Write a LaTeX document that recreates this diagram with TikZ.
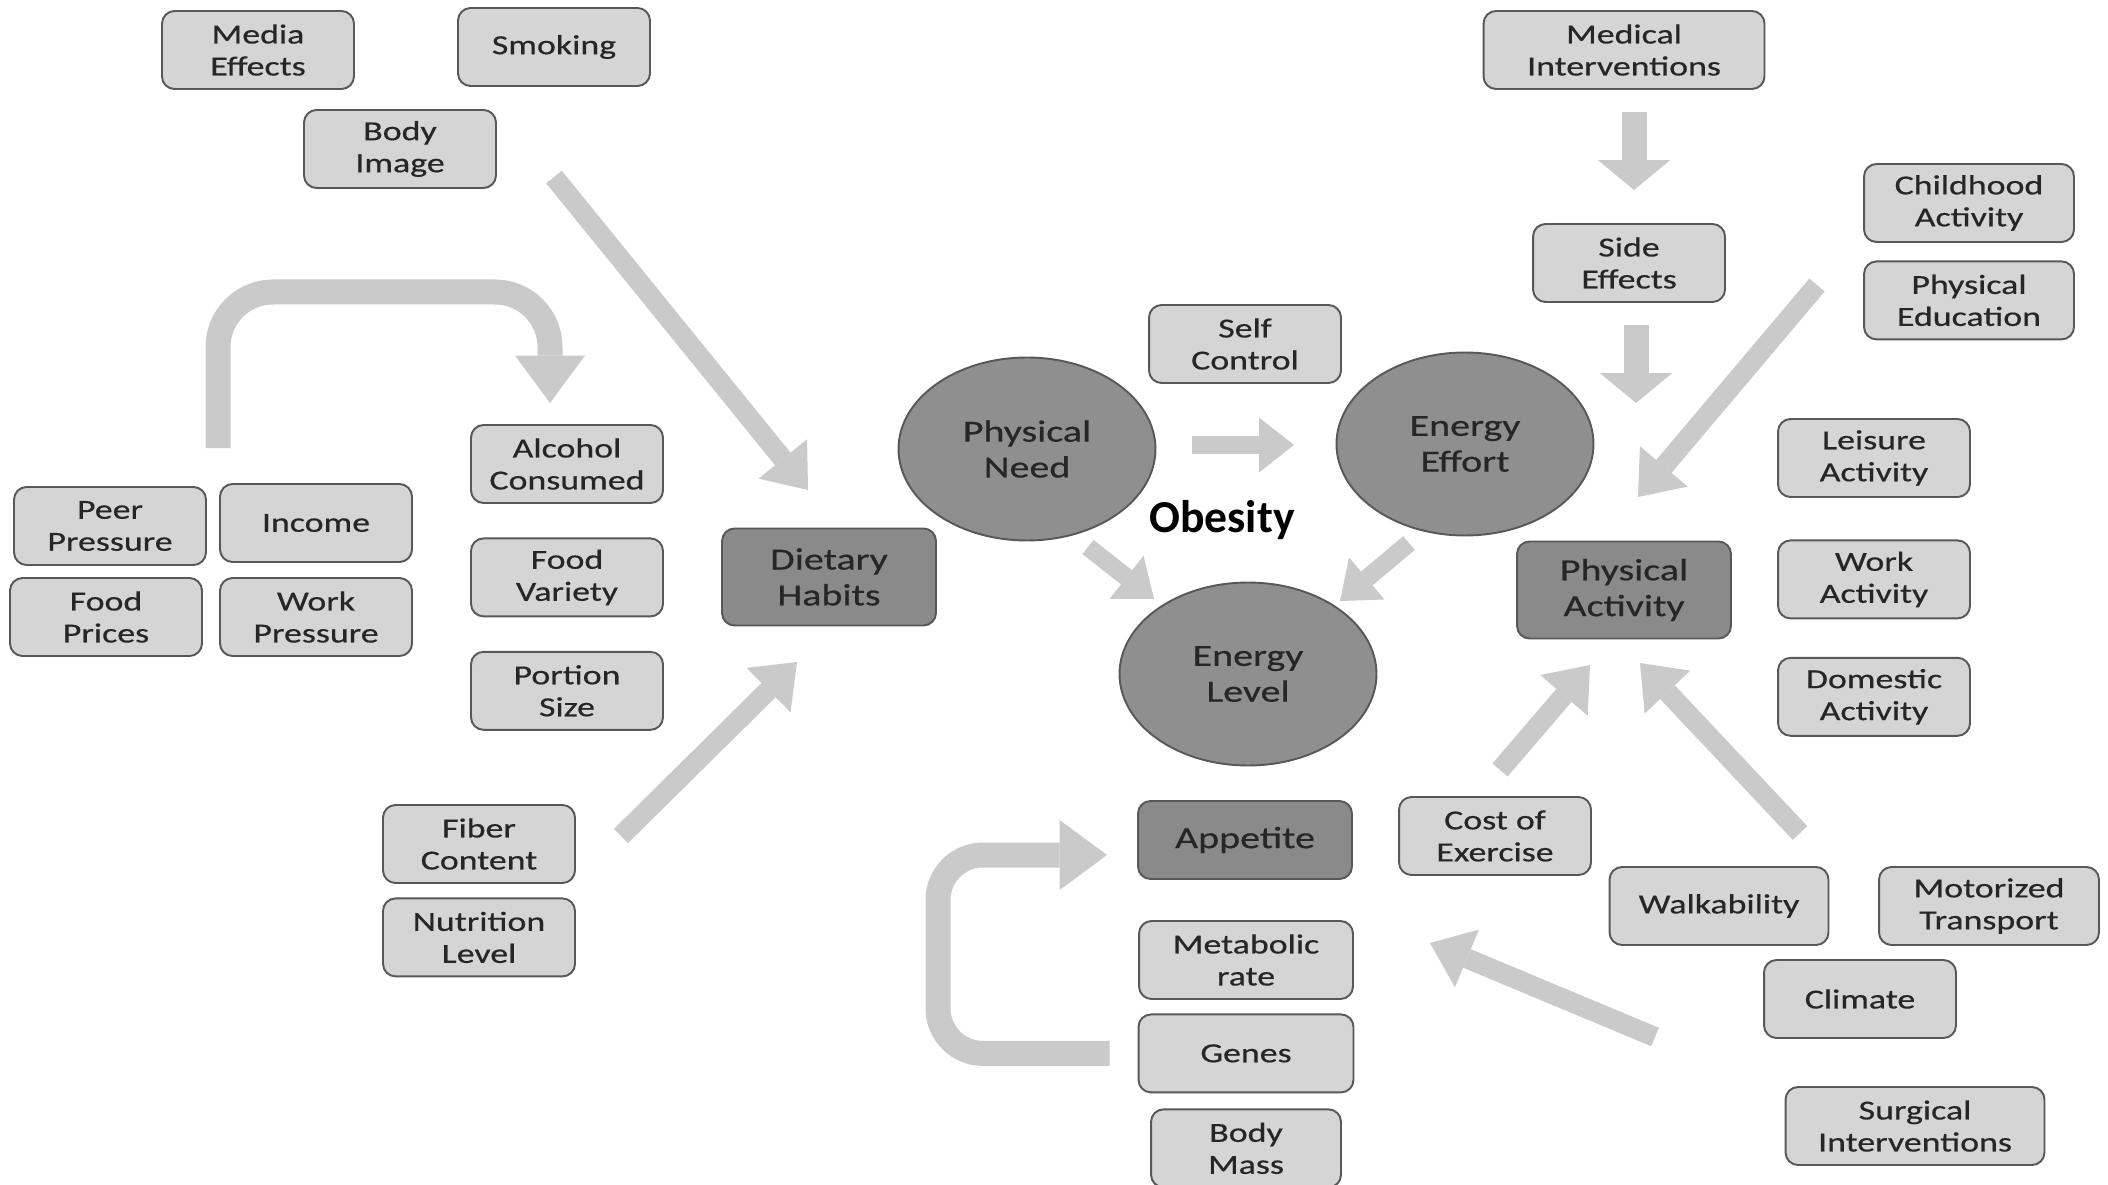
\documentclass[tikz,border=0pt]{standalone}
\usepackage{fontspec}
\setmainfont{Carlito}[FakeStretch=1.3, FakeBold=0.5]
\newfontfamily\titlefont{Carlito}
\usetikzlibrary{
    arrows.meta,
    positioning,
    shapes.geometric
}
\definecolor{boxfill}{HTML}{D5D5D5}
\definecolor{corefill}{HTML}{8A8A8A}
\definecolor{hubfill}{HTML}{8F8F8F}
\definecolor{edgegray}{HTML}{585858}
\definecolor{arrowgray}{HTML}{CACACA}
\definecolor{inkgray}{HTML}{262626}

\begin{document}
\begin{tikzpicture}[
    x=0.02cm, y=-0.02cm,
    every node/.style={font=\fontsize{15.7}{18.2}\selectfont, text=inkgray},
    factor/.style={rectangle, draw=edgegray, line width=1.1pt, rounded corners=0.25cm,
      align=center, fill=boxfill, minimum width=3.84cm, minimum height=1.56cm, inner sep=2pt},
    core/.style={factor, fill=corefill, minimum width=4.28cm, minimum height=1.94cm,
      font=\fontsize{17.5}{20.4}\selectfont},
    hub/.style={ellipse, draw=edgegray, line width=1.1pt, fill=hubfill, align=center,
      minimum width=5.14cm, minimum height=3.66cm, inner sep=0pt,
      font=\fontsize{17.5}{20.4}\selectfont},
    flow/.style={draw=arrowgray, line width=0.4cm,
      -{Triangle[width=1.25cm, length=0.8cm, line width=0pt]}},
    drop/.style={flow, line width=0.5cm,
      -{Triangle[width=1.45cm, length=0.6cm, line width=0pt]}},
    nudge/.style={flow, line width=0.36cm,
      -{Triangle[width=1.1cm, length=0.7cm, line width=0pt]}},
    loop/.style={flow, line width=0.5cm, rounded corners=1.1cm,
      -{Triangle[width=1.4cm, length=0.95cm, line width=0pt]}}
]
\useasboundingbox (0,0) rectangle (2108,1185);
\fill[white] (0,0) rectangle (2108,1185);

% diet side
\node[factor] (media) at (258,50) {Media\\Effects};
\node[factor] (smoking) at (554,47) {Smoking};
\node[factor] (bodyimg) at (400,149) {Body\\Image};
\node[factor] (alcohol) at (567,464) {Alcohol\\Consumed};
\node[factor, below=0.67cm of alcohol] (variety) {Food\\Variety};
\node[factor, below=0.67cm of variety] (portion) {Portion\\Size};
\node[factor] (peer) at (110,526) {Peer\\Pressure};
\node[factor] (income) at (316,523) {Income};
\node[factor] (prices) at (106,617) {Food\\Prices};
\node[factor] (workpress) at (316,617) {Work\\Pressure};
\node[factor] (fiber) at (479,844) {Fiber\\Content};
\node[factor, below=0.27cm of fiber] (nutrition) {Nutrition\\Level};
\node[core] (dietary) at (829,577) {Dietary\\Habits};

% centre
\node[hub] (need) at (1027,449) {Physical\\Need};
\node[hub] (effort) at (1465,444) {Energy\\Effort};
\node[hub] (level) at (1248,674) {Energy\\Level};
\node[factor] (selfctl) at (1245,344) {Self\\Control};
\node[font=\titlefont\bfseries\fontsize{26}{30}\selectfont, text=black] (obesity) at (1222,520) {Obesity};
\node[core, minimum height=1.56cm] (appetite) at (1245,840) {Appetite};
\node[factor, minimum width=4.28cm] (metabolic) at (1246,960) {Metabolic\\rate};
\node[factor, minimum width=4.3cm, below=0.27cm of metabolic] (genes) {Genes};
\node[factor, minimum width=3.8cm, below=0.3cm of genes] (bodymass) {Body\\Mass};

% activity side
\node[factor, minimum width=5.62cm] (medical) at (1624,50) {Medical\\Interventions};
\node[factor] (side) at (1629,263) {Side\\Effects};
\node[factor, minimum width=4.2cm] (childhood) at (1969,203) {Childhood\\Activity};
\node[factor, minimum width=4.2cm, below=0.35cm of childhood] (physed) {Physical\\Education};
\node[core] (physact) at (1624,590) {Physical\\Activity};
\node[factor] (leisure) at (1874,458) {Leisure\\Activity};
\node[factor, below=0.83cm of leisure] (workact) {Work\\Activity};
\node[factor, below=0.75cm of workact] (domestic) {Domestic\\Activity};
\node[factor] (cost) at (1495,836) {Cost of\\Exercise};
\node[factor, minimum width=4.38cm] (walk) at (1719,906) {Walkability};
\node[factor, minimum width=4.4cm] (motor) at (1989,906) {Motorized\\Transport};
\node[factor] (climate) at (1860,999) {Climate};
\node[factor, minimum width=5.18cm] (surgical) at (1915,1126) {Surgical\\Interventions};

% free ends of the block arrows
\coordinate (bi-out) at (554,177);   \coordinate (diet-in1) at (808,490);
\coordinate (fib-out) at (621,836);  \coordinate (diet-in2) at (797,662);
\coordinate (peer-up) at (218,448);  \coordinate (alc-in) at (550,403);
\coordinate (need-out) at (1192,445); \coordinate (effort-in) at (1294,445);
\coordinate (need-dn) at (1088,547); \coordinate (level-in1) at (1154,599);
\coordinate (effort-dn) at (1409,543); \coordinate (level-in2) at (1340,601);
\coordinate (med-out) at (1634,112); \coordinate (side-in) at (1634,190);
\coordinate (side-out) at (1636,325); \coordinate (act-in0) at (1636,403);
\coordinate (child-out) at (1817,285); \coordinate (act-in1) at (1638,497);
\coordinate (cost-out) at (1500,770); \coordinate (act-in2) at (1590,665);
\coordinate (walk-out) at (1800,833); \coordinate (act-in3) at (1640,663);
\coordinate (clim-out) at (1655,1037); \coordinate (meta-in) at (1430,943);

\draw[flow] (bi-out) -- (diet-in1);
\draw[flow] (fib-out) -- (diet-in2);
\draw[loop] (peer-up) |- (550,292) -- (alc-in);
\draw[nudge] (need-out) -- (effort-in);
\draw[nudge] (need-dn) -- (level-in1);
\draw[nudge] (effort-dn) -- (level-in2);
\draw[drop] (med-out) -- (side-in);
\draw[drop] (side-out) -- (act-in0);
\draw[flow] (child-out) -- (act-in1);
\draw[flow] (cost-out) -- (act-in2);
\draw[flow] (walk-out) -- (act-in3);
\draw[flow] (clim-out) -- (meta-in);
\draw[loop, rounded corners=0.9cm] ([xshift=-0.56cm]genes.west) -| (938,855)
  -- ([xshift=-0.6cm, yshift=-0.3cm]appetite.west);
\end{tikzpicture}
\end{document}
